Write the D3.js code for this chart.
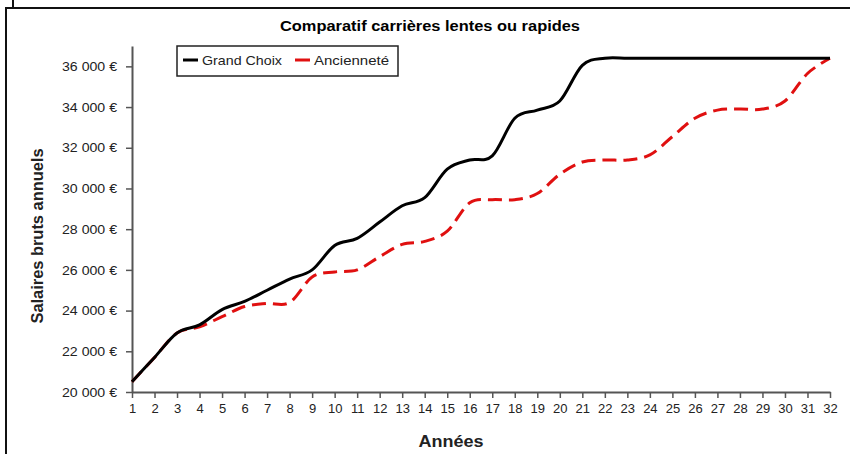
<!DOCTYPE html>
<html>
<head>
<meta charset="utf-8">
<script src="https://cdn.jsdelivr.net/npm/d3@7"></script>
<style>
  body { margin: 0; background: #fff; }
  text { font-family: "Liberation Sans", Arial, sans-serif; }
</style>
</head>
<body>
<div id="chart"></div>
<script>
/**
 * DATA
 * */
const years = d3.range(1, 33);
const grandChoix = [20500, 21700, 22900, 23300, 24050, 24450, 25000, 25550, 26000, 27200,
  27550, 28350, 29150, 29550, 30950, 31400, 31600, 33450, 33850, 34300,
  36050, 36400, 36400, 36400, 36400, 36400, 36400, 36400, 36400, 36400, 36400, 36400];
const anciennete = [20500, 21700, 22900, 23200, 23700, 24200, 24350, 24400, 25650, 25900,
  26000, 26650, 27250, 27400, 27900, 29300, 29450, 29450, 29750, 30700,
  31300, 31400, 31400, 31650, 32550, 33450, 33850, 33900, 33900, 34300, 35650, 36400];
const yTicks = [20000, 22000, 24000, 26000, 28000, 30000, 32000, 34000, 36000];
const seriesNames = ["Grand Choix", "Ancienneté"];

/**
 * CONSTANTS
 * */
const width = 850, height = 454;

const svg = d3.select("#chart").append("svg")
  .attr("width", width)
  .attr("height", height);

// outer frame
svg.append("path")
  .attr("d", "M13,0 V8 M5,8 H850 M6,8 V454")
  .attr("fill", "none")
  .attr("stroke", "#111")
  .attr("stroke-width", 2);

const x = d3.scaleLinear().domain([1, 32]).range([132, 830]);
const y = d3.scaleLinear().domain([20000, 37000]).range([392, 46]);

const fr = d3.formatLocale({ decimal: ",", thousands: " ", grouping: [3], currency: ["", " €"] });
const fmt = fr.format("$,d");

// axes
const xAxis = svg.append("g")
  .attr("transform", `translate(0,${y(20000)})`)
  .call(d3.axisBottom(x).tickValues(years).tickSize(6).tickSizeOuter(0).tickFormat(d3.format("d")));
xAxis.select(".domain").attr("stroke", "#555").attr("stroke-width", 2);
xAxis.selectAll(".tick line").attr("stroke", "#555").attr("stroke-width", 1.5);
xAxis.selectAll("text").attr("font-size", 13).attr("fill", "#222").attr("dy", "0.9em")
  .style("font-family", "'Liberation Sans', Arial, sans-serif");

const yAxis = svg.append("g")
  .attr("transform", `translate(${x(1)},0)`)
  .call(d3.axisLeft(y).tickValues(yTicks).tickSize(6).tickSizeOuter(0).tickFormat(fmt));
yAxis.select(".domain").attr("stroke", "#555").attr("stroke-width", 2);
yAxis.selectAll(".tick line").attr("stroke", "#555").attr("stroke-width", 1.5);
yAxis.selectAll("text").attr("font-size", 13).attr("fill", "#222").attr("x", -15)
  .attr("textLength", 55).attr("lengthAdjust", "spacingAndGlyphs")
  .style("font-family", "'Liberation Sans', Arial, sans-serif");

// lines
const line = d3.line()
  .x((d, i) => x(years[i]))
  .y(d => y(d))
  .curve(d3.curveCardinal.tension(0));

svg.append("path")
  .datum(anciennete)
  .attr("fill", "none")
  .attr("stroke", "#e01010")
  .attr("stroke-width", 3)
  .attr("stroke-dasharray", "14,7")
  .attr("d", line);

svg.append("path")
  .datum(grandChoix)
  .attr("fill", "none")
  .attr("stroke", "#000")
  .attr("stroke-width", 3)
  .attr("d", line);

// title
svg.append("text")
  .attr("x", 430).attr("y", 31)
  .attr("text-anchor", "middle")
  .attr("font-size", 14).attr("font-weight", "bold")
  .attr("textLength", 300).attr("lengthAdjust", "spacingAndGlyphs")
  .text("Comparatif carrières lentes ou rapides");

// axis titles
svg.append("text")
  .attr("x", 451).attr("y", 447)
  .attr("text-anchor", "middle")
  .attr("font-size", 16).attr("font-weight", "bold")
  .attr("fill", "#222")
  .attr("textLength", 65).attr("lengthAdjust", "spacingAndGlyphs")
  .text("Années");

svg.append("text")
  .attr("transform", "translate(43,236) rotate(-90)")
  .attr("text-anchor", "middle")
  .attr("font-size", 16).attr("font-weight", "bold")
  .attr("fill", "#222")
  .attr("textLength", 175).attr("lengthAdjust", "spacingAndGlyphs")
  .text("Salaires bruts annuels");

// legend
const legend = svg.append("g");
legend.append("rect")
  .attr("x", 177).attr("y", 46).attr("width", 221).attr("height", 30)
  .attr("fill", "#fff").attr("stroke", "#222").attr("stroke-width", 1.5);
const legendColors = ["#000", "#e01010"];
const legendX = [183, 295];
const legendLen = [80, 75];
seriesNames.forEach((name, i) => {
  legend.append("line")
    .attr("x1", legendX[i]).attr("x2", legendX[i] + 15)
    .attr("y1", 60).attr("y2", 60)
    .attr("stroke", legendColors[i]).attr("stroke-width", 3);
  legend.append("text")
    .attr("x", legendX[i] + 19).attr("y", 65)
    .attr("font-size", 13).attr("fill", "#222")
    .attr("textLength", legendLen[i]).attr("lengthAdjust", "spacingAndGlyphs")
    .text(name);
});
</script>
</body>
</html>
